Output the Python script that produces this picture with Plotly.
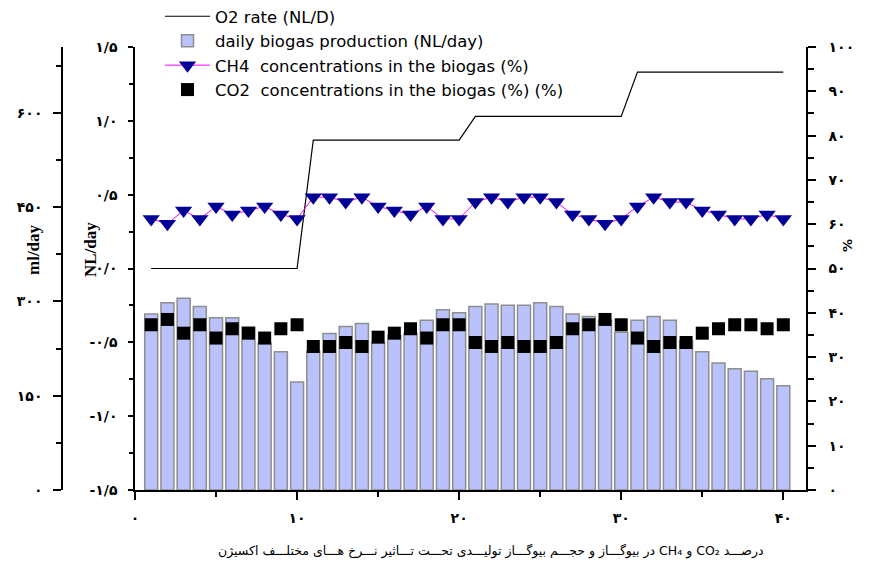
import plotly.graph_objects as go

# ---------------- data ----------------
days = list(range(1, 41))
biogas_ml = [280, 298, 305, 292, 274, 274, 259, 234, 220, 172,
             221, 249, 260, 265, 235, 246, 249, 270, 287, 282,
             292, 296, 294, 294, 298, 292, 280, 276, 270, 251,
             270, 276, 270, 238, 220, 202, 193, 189, 177, 166]
ch4_pct = [61.2, 60.1, 63.1, 61.2, 64.0, 62.2, 63.1, 64.0, 62.2, 61.2,
           66.1, 66.1, 65.0, 66.1, 64.0, 63.1, 62.2, 64.0, 61.2, 61.2,
           65.0, 66.1, 65.0, 66.1, 66.1, 65.0, 62.2, 61.2, 60.1, 61.2,
           64.0, 66.1, 65.0, 65.0, 63.1, 62.2, 61.2, 61.2, 62.2, 61.2]
co2_pct = [37.3, 38.5, 35.4, 37.3, 34.3, 36.4, 35.4, 34.3, 36.4, 37.3,
           32.4, 32.4, 33.3, 32.4, 34.5, 35.4, 36.4, 34.3, 37.3, 37.3,
           33.3, 32.4, 33.3, 32.4, 32.4, 33.3, 36.4, 37.3, 38.5, 37.3,
           34.3, 32.4, 33.3, 33.3, 35.4, 36.4, 37.3, 37.3, 36.4, 37.3]
o2_days = [1, 10, 11, 20, 21, 30, 31, 40]
o2_rate = [0.0, 0.0, 0.87, 0.87, 1.03, 1.03, 1.33, 1.33]

x_ticks = [0, 10, 20, 30, 40]
nl_ticks = [-1.5, -1.0, -0.5, 0.0, 0.5, 1.0, 1.5]
ml_ticks = [0, 150, 300, 450, 600]
pct_ticks = list(range(0, 101, 10))

# caption words in reading (logical) order
caption_words = ["درصـــد", "CO₂", "و", "CH₄", "در", "بیوگـــاز", "و", "حجـــم",
                 "بیوگـــاز", "تولیـــدی", "تحـــت", "تـــاثیر", "نـــرخ", "هـــای",
                 "مختلـــف", "اکسیژن"]

FA = str.maketrans("0123456789.", "۰۱۲۳۴۵۶۷۸۹/")


def fa(s):
    return str(s).translate(FA)


def fa_num(v):
    return fa(f"{v:.1f}")


# --------------- geometry helpers -------------
OFF = 8  # page body margin
W, H = 891 - OFF, 566 - OFF
ML, MR, MT, MB = 2, 85, 39, 76
PW = W - ML - MR
PH = H - MT - MB


def px(xpix):  # screenshot pixel -> paper x
    return (xpix - OFF - ML) / PW


def py(ypix):  # screenshot pixel -> paper y
    return (H - MB - (ypix - OFF)) / PH


fig = go.Figure()

fig.add_trace(go.Bar(
    x=days, y=biogas_ml, yaxis="y2", width=0.8,
    marker=dict(color="#b9c2fa", line=dict(color="#8e8e8e", width=1.5)),
    name="daily biogas production (NL/day)", legendrank=2,
))
fig.add_trace(go.Scatter(
    x=o2_days, y=o2_rate, yaxis="y", mode="lines",
    line=dict(color="black", width=1.2),
    name="O2 rate (NL/D)", legendrank=1,
))
fig.add_trace(go.Scatter(
    x=days, y=ch4_pct, yaxis="y3", mode="lines+markers",
    line=dict(color="#ff00ff", width=1),
    marker=dict(symbol="triangle-down", size=15, color="#000096"),
    name="CH4  concentrations in the biogas (%)", legendrank=3,
))
fig.add_trace(go.Scatter(
    x=days, y=co2_pct, yaxis="y3", mode="markers",
    marker=dict(symbol="square", size=13, color="black"),
    name="CO2  concentrations in the biogas (%) (%)", legendrank=4,
))

tickfont = dict(family="DejaVu Sans", size=14, color="black", weight="bold")

fig.update_layout(
    width=W, height=H,
    margin=dict(l=ML, r=MR, t=MT, b=MB, autoexpand=False),
    paper_bgcolor="white", plot_bgcolor="white",
    showlegend=True,
    legend=dict(
        x=px(160), y=py(-1), xanchor="left", yanchor="top",
        font=dict(family="DejaVu Sans", size=16.5, color="black"),
        bgcolor="rgba(0,0,0,0)", borderwidth=0, itemwidth=45,
        traceorder="normal", tracegroupgap=0,
    ),
    xaxis=dict(
        domain=[px(135), 1], range=[0, 41.4], anchor="y",
        tickvals=x_ticks, ticktext=[fa(v) for v in x_ticks],
        ticks="outside", ticklen=8, tickwidth=1.5, tickcolor="black",
        minor=dict(dtick=5, tick0=0, ticks="outside", ticklen=5, tickwidth=1.5, tickcolor="black"),
        showline=True, linecolor="black", linewidth=2,
        showgrid=False, zeroline=False, tickfont=tickfont, ticklabelstandoff=6,
    ),
    yaxis=dict(
        range=[-1.5, 1.5], anchor="x", side="left",
        tickvals=nl_ticks, ticktext=[fa_num(v) for v in nl_ticks],
        ticks="outside", ticklen=5, tickwidth=2, tickcolor="black",
        minor=dict(dtick=0.25, tick0=0, ticks="outside", ticklen=4, tickwidth=2, tickcolor="black"),
        showline=True, linecolor="black", linewidth=1.5,
        showgrid=False, zeroline=False, tickfont=tickfont, ticklabelstandoff=8,
    ),
    yaxis2=dict(
        range=[0, 705], overlaying="y", anchor="free", position=px(62), side="left",
        tickvals=ml_ticks, ticktext=[fa(v) for v in ml_ticks],
        ticks="outside", ticklen=8, tickwidth=2, tickcolor="black",
        minor=dict(dtick=75, tick0=0, ticks="outside", ticklen=5, tickwidth=2, tickcolor="black"),
        showline=True, linecolor="black", linewidth=1.5,
        showgrid=False, zeroline=False, tickfont=tickfont, ticklabelstandoff=8,
    ),
    yaxis3=dict(
        range=[0, 100], overlaying="y", anchor="x", side="right",
        tickvals=pct_ticks, ticktext=[fa(v) for v in pct_ticks],
        ticks="outside", ticklen=8, tickwidth=2, tickcolor="black",
        minor=dict(dtick=5, tick0=0, ticks="outside", ticklen=6, tickwidth=2, tickcolor="black"),
        showline=True, linecolor="black", linewidth=1.5,
        showgrid=False, zeroline=False, tickfont=tickfont, ticklabelstandoff=10,
    ),
    annotations=[
        dict(text="<b>ml/day</b>", x=px(34), y=py(250), xref="paper", yref="paper",
             xanchor="center", yanchor="middle",
             textangle=-90, showarrow=False,
             font=dict(family="Liberation Serif", size=17, color="black")),
        dict(text="<b>NL/day</b>", x=px(91), y=py(250), xref="paper", yref="paper",
             xanchor="center", yanchor="middle",
             textangle=-90, showarrow=False,
             font=dict(family="Liberation Serif", size=17, color="black")),
        dict(text="<b>%</b>", x=px(847), y=py(246), xref="paper", yref="paper",
             xanchor="center", yanchor="middle",
             textangle=-90, showarrow=False,
             font=dict(family="DejaVu Sans", size=13, color="black")),
        dict(text="\u202b" + " ".join(caption_words) + "\u202c", x=px(491), y=py(551),
             xref="paper", yref="paper", showarrow=False,
             xanchor="center", yanchor="middle",
             font=dict(family="DejaVu Sans", size=12.5, color="black")),
    ],
)

fig.write_html("out.html")
